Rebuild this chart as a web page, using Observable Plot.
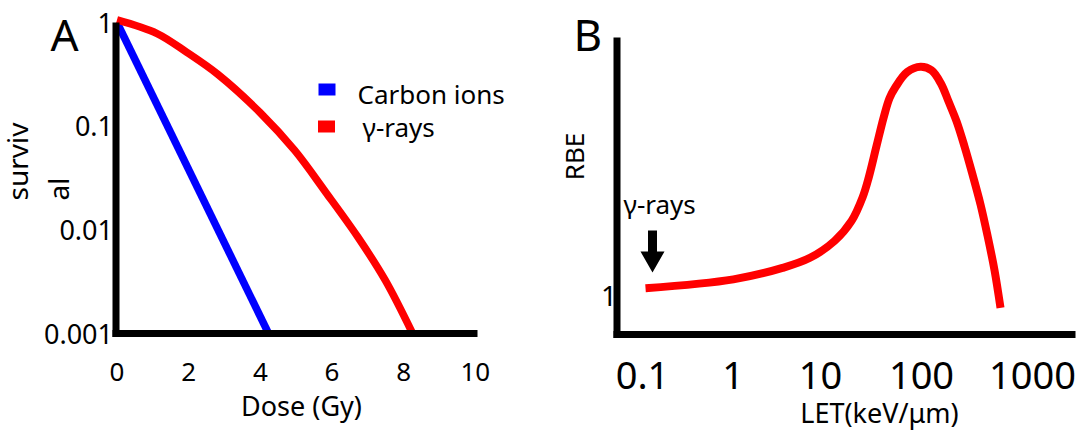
<!DOCTYPE html>
<html>
<head>
<meta charset="utf-8">
<script src="https://cdn.jsdelivr.net/npm/d3@7"></script>
<script src="https://cdn.jsdelivr.net/npm/@observablehq/plot@0.6"></script>
<style>
  html, body { margin: 0; padding: 0; background: #fff; overflow: hidden; }
  #fig { display: flex; width: 1083px; height: 430px; }
  #fig svg { display: block; overflow: visible; }
</style>
</head>
<body>
<div id="fig"></div>
<script>
// ---------- Panel A: survival vs dose ----------
const doseTicks = [0, 2, 4, 6, 8, 10];
const doseTickLabels = ["0", "2", "4", "6", "8", "10"];
const survivalTicks = [0.001, 0.01, 0.1, 1];
const survivalTickLabels = ["0.001", "0.01", "0.1", "1"];

const carbonDose = [0, 4.23];
const carbonSurvival = [1, 0.001];

const gammaDose = [0, 1.12, 1.95, 2.82, 3.99, 4.96, 5.83, 6.71, 7.49, 8.25];
const gammaSurvival = [1.06, 0.783, 0.515, 0.315, 0.1355, 0.0583, 0.02295, 0.00864, 0.00325, 0.001];

const legendLabels = ["Carbon ions", "γ-rays"];
const legendColors = ["#0000ff", "#ff0000"];

// ---------- Panel B: RBE vs LET ----------
const letTicks = [0.1, 1, 10, 100, 1000];
const letTickLabels = ["0.1", "1", "10", "100", "1000"];
const rbeTicks = [1];
const rbeTickLabels = ["1"];

const letValues = [0.108, 1.01, 3.68, 7.59, 13.8, 20.3, 26.1, 30.1, 35.8, 42.3, 48.2, 55.3, 72.2, 97.8, 123, 150, 175, 207, 244, 288, 340, 393, 455, 515];
const rbeValues = [1.078, 1.155, 1.254, 1.341, 1.487, 1.659, 1.862, 2.037, 2.302, 2.554, 2.716, 2.813, 2.942, 2.987, 2.957, 2.842, 2.690, 2.517, 2.302, 2.060, 1.802, 1.534, 1.233, 0.909];

// ---------- tables ----------
const carbon = carbonDose.map((d, i) => ({dose: d, survival: carbonSurvival[i]}));
const gamma = gammaDose.map((d, i) => ({dose: d, survival: gammaSurvival[i]}));
const rbeCurve = letValues.map((l, i) => ({let: l, rbe: rbeValues[i]}));

const FONT = "'Noto Sans', 'DejaVu Sans', sans-serif";
const swatch = {draw(ctx) { ctx.rect(-8.5, -6, 17, 12); }};
const downArrow = {draw(ctx) {
  ctx.moveTo(-4.5, -21); ctx.lineTo(4.5, -21); ctx.lineTo(4.5, 0);
  ctx.lineTo(12, 0); ctx.lineTo(0, 21); ctx.lineTo(-12, 0); ctx.lineTo(-4.5, 0); ctx.closePath();
}};
const axisLine = {stroke: "black", strokeWidth: 7, strokeLinecap: "square"};

// ---------- Panel A ----------
const mA = {left: 115.5, top: 25.5, right: 66.5, bottom: 97};
const atA = (px, py) => ({frameAnchor: "top-left", lineAnchor: "middle", dx: px - mA.left, dy: py - mA.top});

const plotA = Plot.plot({
  width: 540, height: 430,
  marginLeft: mA.left, marginRight: mA.right, marginTop: mA.top, marginBottom: mA.bottom,
  style: {fontFamily: FONT, fontSize: "26px", color: "black", background: "white", overflow: "visible"},
  x: {domain: [0, 10], range: [116.5, 474.8]},
  y: {type: "log", domain: [0.001, 1], range: [333, 22]},
  marks: [
    Plot.axisY({ticks: survivalTicks, tickFormat: d => survivalTickLabels[survivalTicks.indexOf(d)],
      tickSize: 0, tickPadding: 3, dy: 1.5, fontSize: 27, label: null}),
    Plot.axisX({ticks: doseTicks, tickFormat: d => doseTickLabels[doseTicks.indexOf(d)],
      tickSize: 0, tickPadding: 28.7, fontSize: 26, label: null}),
    Plot.line(carbon, {x: "dose", y: "survival", stroke: legendColors[0], strokeWidth: 7.5, strokeLinecap: "butt"}),
    Plot.line(gamma, {x: "dose", y: "survival", stroke: legendColors[1], strokeWidth: 7.5, strokeLinecap: "butt", curve: "catmull-rom"}),
    Plot.frame({anchor: "left", ...axisLine}),
    Plot.frame({anchor: "bottom", ...axisLine}),
    // panel letter
    Plot.text(["A"], {...atA(50, 36.8), text: d => d, textAnchor: "start", fontSize: 44}),
    // y label (wrapped as in the original)
    Plot.text(["surviv\nal"], {...atA(35.2, 200), text: d => d, rotate: -90, textAnchor: "start", lineHeight: 1.43, fontSize: 28}),
    // x label
    Plot.text(["Dose (Gy)"], {...atA(301, 406.4), text: d => d, textAnchor: "middle", fontSize: 27}),
    // legend
    ...legendLabels.flatMap((label, i) => [
      Plot.dot([label], {...atA([326.5, 326][i], [89, 126][i]), symbol: swatch, fill: legendColors[i], stroke: "none"}),
      Plot.text([label], {...atA([357, 362][i], [94.7, 128.4][i]), text: d => d, textAnchor: "start", fontSize: 26})
    ])
  ]
});

// ---------- Panel B ----------
const mB = {left: 76.5, top: 40.5, right: 11.5, bottom: 96};
const atB = (px, py) => ({frameAnchor: "top-left", lineAnchor: "middle", dx: px - mB.left, dy: py - mB.top});

const plotB = Plot.plot({
  width: 543, height: 430,
  marginLeft: mB.left, marginRight: mB.right, marginTop: mB.top, marginBottom: mB.bottom,
  style: {fontFamily: FONT, fontSize: "26px", color: "black", background: "white", overflow: "visible"},
  x: {type: "log", domain: letTicks, range: [102, 192.5, 280, 381, 492]},
  y: {domain: [0.68, 3.24], range: [334, 37]},
  marks: [
    Plot.axisY({ticks: rbeTicks, tickFormat: d => rbeTickLabels[rbeTicks.indexOf(d)],
      tickSize: 0, tickPadding: 0, fontSize: 28, label: null}),
    Plot.axisX({ticks: letTicks, tickFormat: d => letTickLabels[letTicks.indexOf(d)],
      tickSize: 0, tickPadding: 28, fontSize: 38, label: null}),
    Plot.line(rbeCurve, {x: "let", y: "rbe", stroke: "#ff0000", strokeWidth: 8, strokeLinecap: "butt", curve: "catmull-rom"}),
    Plot.frame({anchor: "left", ...axisLine}),
    Plot.frame({anchor: "bottom", ...axisLine}),
    Plot.text(["B"], {...atB(33, 36.8), text: d => d, textAnchor: "start", fontSize: 44}),
    Plot.text(["RBE"], {...atB(35.5, 156), text: d => d, rotate: -90, textAnchor: "middle", fontSize: 26}),
    Plot.text(["LET(keV/μm)"], {...atB(339, 413.5), text: d => d, textAnchor: "middle", fontSize: 27}),
    Plot.text(["γ-rays"], {...atB(83, 204.7), text: d => d, textAnchor: "start", fontSize: 26}),
    Plot.dot(["γ-rays"], {...atB(112, 251), symbol: downArrow, fill: "black", stroke: "none"})
  ]
});

document.getElementById("fig").append(plotA, plotB);
</script>
</body>
</html>
